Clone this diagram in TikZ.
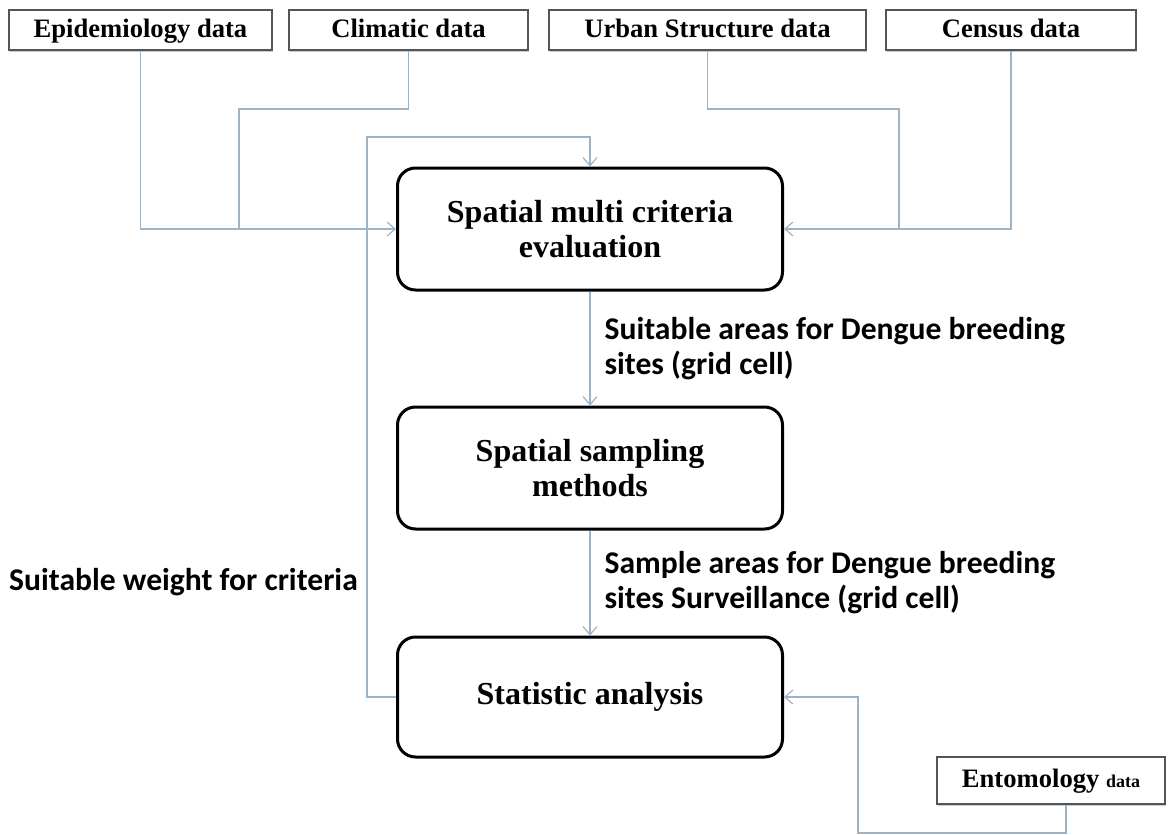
\documentclass[tikz,border=0pt]{standalone}
\usepackage{fontspec}
\setmainfont{Liberation Serif}
\newfontfamily\labelfont{Carlito}
\usetikzlibrary{arrows.meta,positioning,shadows}
\definecolor{figLink}{HTML}{9DB3C8}
\definecolor{figEdge}{HTML}{555555}

\begin{document}
\begin{tikzpicture}[x=0.5pt,y=-0.5pt,>={Straight Barb[length=4pt,width=7pt]},
  databox/.style={draw=figEdge,line width=0.8pt,fill=white,minimum height=20pt,inner sep=0pt,
    text height=10pt,text depth=3pt,font=\bfseries\fontsize{13.3}{15}\selectfont,
    drop shadow={shadow xshift=0.6pt,shadow yshift=-0.8pt,fill=black!35,opacity=0.6}},
  procbox/.style={draw,line width=1.5pt,rounded corners=9pt,minimum width=192.5pt,
    minimum height=61pt,align=center,font=\bfseries\fontsize{16}{17.5}\selectfont},
  link/.style={draw=figLink,line width=0.6pt},
  tag/.style={font=\labelfont\bfseries\fontsize{15.8}{17.5}\selectfont,align=left,inner sep=0pt}]
\useasboundingbox (0,0) rectangle (1168,835);
% data sources
\node[databox,minimum width=131.5pt] (epi) at (140.5,30) {Epidemiology data};
\node[databox,minimum width=119.5pt] (clim) at (408.5,30) {Climatic data};
\node[databox,minimum width=158.5pt] (urb) at (707.5,30) {Urban Structure data};
\node[databox,minimum width=125pt] (cens) at (1011,30) {Census data};
\node[databox,minimum width=114pt,minimum height=23.5pt] (ento) at (1051,780.5)
  {Entomology {\fontsize{9}{10}\selectfont data}};
% process steps
\node[procbox] (smce) at (590,229) {Spatial multi criteria\\evaluation};
\node[procbox] (samp) at (590,468) {Spatial sampling\\methods};
\node[procbox,minimum height=60pt] (stat) at (590,697) {Statistic analysis};
\node[tag] (wlab) at (183.5,582) {Suitable weight for criteria};
% inputs to the evaluation
\coordinate (climbend) at (239,109);
\coordinate (urbbend) at (899,109);
\draw[link,->] (epi.south) |- (smce.west);
\draw[link] (clim.south) |- (climbend) -- (climbend |- smce.west);
\draw[link] (urb.south) |- (urbbend) -- (urbbend |- smce.east);
\draw[link,->] (cens.south) |- (smce.east);
% feedback of the weights
\coordinate (fbtop) at (367,137);
\draw[link,->] (stat.west) -| (fbtop) -| (smce.north);
% main flow
\draw[link,->] (smce) -- (samp) node[tag,midway,right=7pt]
  {Suitable areas for Dengue breeding\\sites (grid cell)};
\draw[link,->] (samp) -- (stat) node[tag,midway,right=7pt]
  {Sample areas for Dengue breeding\\sites Surveillance (grid cell)};
% entomology input
\coordinate (entobend) at (858,833);
\draw[link,->] ([xshift=7.5pt]ento.south) |- (entobend) |- (stat.east);
\end{tikzpicture}
\end{document}
